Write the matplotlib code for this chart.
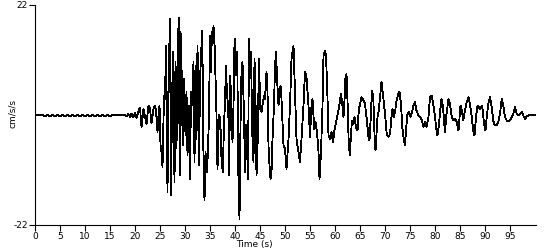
import matplotlib
matplotlib.use("Agg")
import matplotlib.pyplot as plt

# time (s) and acceleration (cm/s/s)
t_quiet = [0, 1.5, 2, 2.5, 3, 3.5, 4, 4.5, 5, 5.5, 6, 6.5, 7, 7.5, 8, 8.5, 9,
           9.5, 10, 10.5, 11, 11.5, 12, 12.5, 13, 13.5, 14, 14.5, 15, 15.5,
           16, 17, 18, 18.3, 18.7, 19, 19.3, 19.6, 20, 20.3, 20.6]
a_quiet = [0, 0, -0.2, -0.05, -0.2, -0.05, -0.2, -0.05, -0.2, -0.05, -0.2,
           -0.05, -0.2, -0.05, -0.2, -0.05, -0.2, -0.05, -0.2, -0.05, -0.2,
           -0.05, -0.2, -0.05, -0.2, -0.05, -0.2, -0.05, -0.2, 0, 0.05, -0.05,
           0.1, -0.3, 0.2, -0.4, 0.3, -0.5, 0.4, -0.6, 0.5]

t_strong = [21, 21.3, 21.7, 22, 22.3, 22.7, 23, 23.3, 23.7, 24, 24.2, 24.5,
            24.7, 24.9, 25.1, 25.3, 25.5, 25.8, 26.0, 26.2, 26.35, 26.5, 26.7,
            27.0, 27.2, 27.4, 27.6, 27.9, 28.1, 28.3, 28.5, 28.75, 28.95, 29.1,
            29.25, 29.45, 29.65, 29.85, 30.1, 30.3, 30.5, 30.8, 31.0, 31.2,
            31.45, 31.7, 31.9, 32.1, 32.3, 32.5, 32.8, 33.0, 33.2, 33.45, 33.7,
            33.9, 34.1, 34.4, 34.6, 34.8, 35.0, 35.2, 35.3, 35.5, 35.7, 35.95,
            36.3, 36.5, 36.8, 37.05, 37.3, 37.55, 37.8, 38.0, 38.2, 38.4,
            38.65, 38.85, 39.0, 39.2, 39.5, 39.7, 39.9, 40.0, 40.2, 40.45,
            40.65, 40.9, 41.1, 41.3, 41.5, 41.8, 42.0, 42.2, 42.4, 42.6, 42.8,
            43.0, 43.2, 43.45, 43.7, 43.9, 44.1, 44.3, 44.5, 44.8, 45.05, 45.3,
            45.5, 45.8, 46.0, 46.3, 46.5, 46.7, 46.9, 47.1, 47.3, 47.5, 47.8,
            48.0, 48.2, 48.45, 48.7, 48.9, 49.1, 49.3, 49.7, 50.0, 50.3, 50.7,
            51.0, 51.3, 51.7, 52.0, 52.3, 52.7, 53.0, 53.3, 53.7, 54.0, 54.3,
            54.7, 55.0, 55.3, 55.5, 55.85, 56.1, 56.4, 56.7, 56.9, 57.2, 57.5,
            57.7, 58.0, 58.2, 58.45, 58.7, 59.0, 59.3, 59.6, 59.9]
a_strong = [1.5, -2.4, 1.2, -0.3, -1.8, 1.9, 1.3, -1.6, 1.2, 1.9, 0.9, -3.4,
            0.0, 1.9, -6, -7.4, -10.4, 3.9, 3.2, 13.9, -0.5, -15.4, 6.6, 19.2,
            -16, 2, 12.6, -13.4, 10.6, -6.7, 11.2, 19.4, -12.1, 16.6, 14, -1.4,
            -6.1, 7.2, -4.1, 4.6, -8.1, 1.9, -12.8, 4.6, 1.9, 10.6, -9.4, 9.9,
            -4.8, 13.9, -10.1, 6.6, 11.9, 16.9, -8.7, -17.1, -7.4, -11.4, -6.8,
            0, 15.9, 8.6, 16.6, 13.9, 17.9, 13.2, 0, -10.8, 0, -0.8, -8.8,
            -11.4, -2.1, 2.6, 9.9, 3.9, 1.9, -12.1, 7.9, 4.6, -5.4, 1.9, 14.6,
            15.2, 8, 12.6, -10.8, -20.8, -2.1, 8.6, 10.6, 0, -11.4, -2, -6.1,
            -12.8, 15.2, 9.2, 12.6, -3.4, -9.4, 11.2, 3.2, -12.1, -6.8, 11.2,
            1.2, 0.6, 1.9, 3.9, 3.2, 8.6, 4.6, -6.1, -10.1, -12.8, -11.4, -4.8,
            1.9, 9.6, 12.6, 6.6, 1.9, 4.6, 5.9, 3.2, -6.1, -6.8, -10.8, -4.8,
            1.9, 11.2, 13.9, 4.6, -4.8, -7.4, -9.4, -4.8, 1.9, 8.6, 7.6, 1.9,
            -4.4, 1.9, 3.2, -2.8, -1.4, -3.4, -7.4, -12.8, -7.4, 1.9, 11.9,
            12.9, 11.9, 5.2, -4.1, -4.8, -3.4, -5.4, -3]

t_coda = [60.3, 60.7, 61.0, 61.2, 61.45, 61.7, 61.9, 62.1, 62.3, 62.5, 62.75,
          63.0, 63.15, 63.4, 63.65, 63.9, 64.2, 64.5, 64.75, 65.0, 65.3, 65.7,
          66.0, 66.3, 66.7, 66.9, 67.15, 67.4, 67.65, 67.9, 68.1, 68.5, 68.75,
          69.0, 69.3, 69.65, 70.0, 70.35, 70.7, 71.0, 71.3, 71.5, 71.8, 72.05,
          72.3, 72.7, 72.9, 73.2, 73.45, 73.7, 74.0, 74.25, 74.5, 74.8, 75.1,
          75.3, 75.7, 76.0, 76.3, 76.7, 77.0, 77.3, 77.7, 78.0, 78.3, 78.7,
          79.0, 79.3, 79.65, 80.0, 80.3, 80.5, 80.8, 81.05, 81.3, 81.6, 81.85,
          82.0, 82.3, 82.7, 83.0, 83.35, 83.65, 84.0, 84.35, 84.7, 85.1, 85.35,
          85.65, 86.0, 86.35, 86.7, 87.0, 87.35, 87.65, 87.9, 88.2, 88.5,
          88.75, 89.0, 89.35, 89.55, 89.8, 90.1, 90.35, 90.65, 91.0, 91.35,
          91.65, 91.95, 92.35, 92.65, 93.0, 93.35, 93.65, 94.0, 94.35, 94.65,
          95.0, 95.35, 95.65, 96.0, 96.35, 96.65, 97.0, 97.35, 97.65, 98.0,
          98.35, 98.65, 99.0, 100.2]
a_coda = [-1.1, 0.9, 2.9, 4.2, 2.2, -0.4, 2.9, 7.6, 8.2, 2.9, -5.8, -8.1, -4.4,
          -1.1, -1.8, -0.4, -2.4, -3.1, 0.9, 2.2, 3.6, 2.9, 2.2, -0.4, -4.4,
          -5.1, -0.4, 4.9, 3.6, -3.8, -7.1, -0.4, 0.9, 3.6, 6.6, 3.6, 0.2,
          -3.8, -4.4, -3.8, -0.4, 1.2, -0.4, 0.9, 2.9, 4.4, 4.6, 2.2, -2.4,
          -4.4, -6.1, -2.4, 0.2, 0.6, -0.4, 0.2, 1.9, 2.6, 0.9, -0.1, -0.4,
          -0.8, -2.4, -1.4, -2.4, -0.4, 3.6, 3.9, 2.2, -0.4, -3.1, -4.1, -1.8,
          0.9, 3.2, 1.6, -1.8, -3.4, 0.2, 3.2, 2.2, -0.4, -1.1, -0.8, -1.4,
          -3.1, 1.9, 0.9, -1.1, 0.9, 2.6, 3.6, 2.2, -0.4, -3.1, -4.1, -0.4,
          1.9, 1.6, 1.2, 1.9, 0.9, -1.8, -3.1, -0.4, 2.2, 3.6, 1.6, -1.1,
          -2.1, -2.1, -1.4, 0.2, 3.2, 1.9, -0.4, -1.1, -1.2, -1.1, -0.4, 0.2,
          1.6, 0.2, -0.1, 0.2, 0.6, -0.1, -0.8, -0.3, -0.1, 0, 0]

x_ticks = [0, 5, 10, 15, 20, 25, 30, 35, 40, 45, 50, 55, 60, 65, 70, 75, 80,
           85, 90, 95]
y_ticks = [-22, 22]

time = t_quiet + t_strong + t_coda
accel = a_quiet + a_strong + a_coda

fig = plt.figure(figsize=(5.5, 2.5), dpi=100)
ax = fig.add_axes([35 / 550, 25 / 250, 501 / 550, 220 / 250])
ax.plot(time, accel, color="black", lw=0.6, antialiased=False)

ax.set_xlim(0, 100.2)
ax.set_ylim(-22, 22)
ax.set_xticks(x_ticks)
ax.set_xticklabels([str(v) for v in x_ticks])
ax.set_yticks(y_ticks)
ax.set_yticklabels([str(v) for v in y_ticks])
ax.tick_params(axis="both", direction="out", length=4, width=0.8,
               labelsize=6.5, pad=1.2, color="black")
for side in ["top", "right"]:
    ax.spines[side].set_visible(False)
for side in ["left", "bottom"]:
    ax.spines[side].set_linewidth(0.8)

fig.text(12 / 550, 1 - 113 / 250, "cm/s/s", rotation=90, fontsize=6.5,
         ha="center", va="center")
fig.text(254 / 550, 1 - 249.5 / 250, "Time (s)", fontsize=6.5,
         ha="center", va="bottom")

fig.savefig("out.png", dpi=100)
